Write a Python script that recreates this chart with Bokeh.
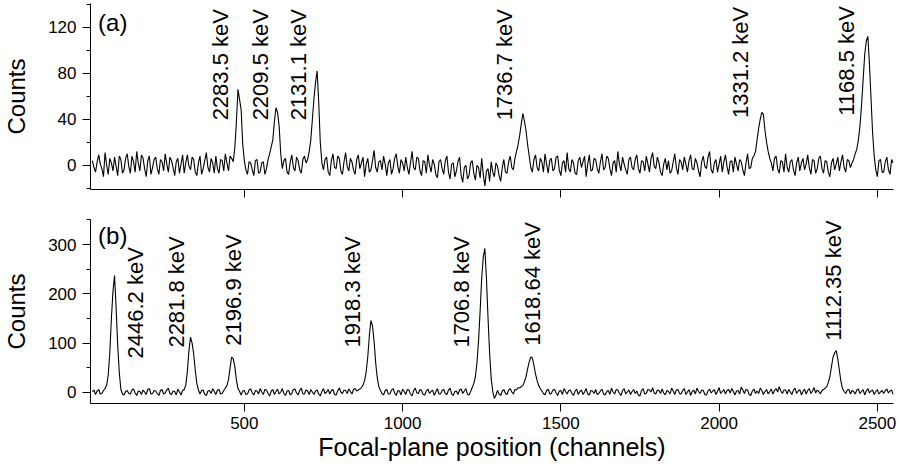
import math
from bokeh.plotting import figure
from bokeh.layouts import column
from bokeh.models import FixedTicker, ColumnDataSource, Range1d
from bokeh.core.properties import value
from bokeh.embed import file_html
from bokeh.resources import INLINE

# ---------------- data ----------------
channels = list(range(20, 2551, 5))

counts_a = [
    4, -2, -6, 3, 9, 1, -3, -10, 11, 0, -8, 6, 2, -5, 7, -1, -9, 8, 5, -7,
    -4, 6, 10, -1, -7, 8, 3, -6, 12, 2, -5, 9, 6, -3, -10, 4, 8, -8, -2, 5,
    7, -3, -8, 5, 3, -5, 10, 1, -6, 7, 4, -2, -9, 3, 6, -7, 1, 9, -7, 2,
    9, -1, -4, 7, 5, -6, -9, 2, 8, -8, -3, 4, 11, -2, -6, 6, 2, -7, 8, -3,
    -7, 5, 4, -5, 10, 2, -5, 8, 6, 3, 15, 38, 66, 57, 48, 18, 4, -4, -8, 3,
    2, -4, -9, 4, 5, -7, -6, 2, 3, -8, -3, 5, 10, 16, 22, 38, 50, 46, 34, 10,
    -3, 4, 6, -6, -8, 3, 9, -2, -5, 7, 4, -4, -7, 5, 8, 2, 5, 12, 22, 40,
    58, 72, 82, 55, 20, 2, -4, 5, 7, -6, -9, 4, 10, -2, -3, 8, 6, -5, -8, 3,
    11, -1, -5, 6, 3, -4, -8, 5, 9, -3, 2, 7, -10, 1, 6, -6, -4, 4, 13, -2,
    -6, 3, 4, -4, 8, 1, -9, 2, 5, -8, -3, 6, 10, -1, -7, 5, 2, -5, 7, -2,
    -8, 2, 12, -2, -4, 7, 6, -5, -9, 4, 3, -7, 9, 0, -6, 5, 1, -8, -11, 3,
    5, -3, -8, 4, 8, -6, -12, 1, 2, -10, -5, 3, 7, -9, -15, -2, 0, -12, -9, 2,
    4, -7, -13, 0, -2, -11, 6, -8, -18, -5, -3, -14, 3, -6, -10, 2, -1, -9, -14, -2,
    5, -6, -7, 3, 8, -2, -4, 6, 12, 18, 26, 36, 45, 38, 30, 18, 8, -2, -6, 5,
    9, -2, -5, 6, 3, -6, 10, 1, -7, 4, 6, -5, -3, 7, 8, -4, -9, 2, 4, -6,
    11, -3, -6, 5, 2, -7, -8, 4, 7, -2, 3, 8, -10, 1, 9, -5, -4, 6, 5, -3,
    -7, 3, 10, -4, -2, 8, 6, -3, -9, 2, 4, -6, 12, 1, -5, 7, 1, -4, -8, 5,
    7, -2, -4, 5, 9, -3, -7, 4, 3, -5, 8, 1, -6, 6, 11, -1, -3, 7, 2, -6,
    -9, 1, 6, -4, 4, -7, -5, 3, 10, -2, -8, 5, 3, -4, 7, 1, -6, 4, 9, -3,
    -4, 6, 2, -5, -10, 3, 8, -1, -3, 7, 12, -4, -7, 2, 5, -6, 1, 8, -6, 3,
    9, -1, -8, 3, 4, -6, 7, 1, -5, 5, 3, -4, -9, 2, 10, -3, -2, 6, 8, 12,
    22, 32, 40, 46, 44, 30, 20, 12, 6, 2, -5, 6, 8, -3, -7, 4, 3, -6, 10, -2,
    -6, 3, 5, -4, -9, 2, 7, -5, 2, 6, -4, 1, 9, -2, -8, 5, 4, -7, -3, 6,
    8, -3, -7, 4, 3, -6, -10, 2, 6, -4, 1, 7, -5, 3, 9, -2, -6, 5, 4, -2,
    2, 5, 10, 14, 22, 34, 52, 74, 96, 108, 112, 88, 58, 28, 8, -4, -10, 4, 5, -6,
    -6, 3, 7, -4, -8, 5, 2,
]

counts_b = [
    2, 5, -4, 3, 6, -3, -2, 4, 8, 15, 35, 80, 150, 205, 237, 170, 95, 40, 6, -3,
    -5, 2, 4, -2, -3, 5, 7, -1, -6, 3, 2, -4, 5, 1, -4, 6, 8, -3, -2, 4,
    3, -2, -6, 4, 6, -3, -1, 5, 9, -2, -4, 3, 2, -5, 7, 1, -5, 4, 6, 15,
    42, 85, 112, 100, 78, 45, 18, 5, -3, 4, 5, -4, -6, 3, 4, -2, 8, 2, -4, 5,
    6, -3, -2, 4, 9, 14, 26, 50, 72, 68, 52, 25, 8, 2, -5, 3, 4, -4, -3, 5,
    7, -1, -5, 4, 3, -3, 8, 1, -4, 6, 5, -2, -7, 3, 6, -4, 2, 7, -3, 1,
    8, -2, -6, 3, 4, -5, -2, 6, 7, -1, -5, 4, 9, -3, -3, 5, 3, -4, 6, 1,
    -4, 3, 5, -3, -7, 2, 8, -2, 1, 6, -3, 4, 6, -4, -5, 3, 9, 1, -2, 5,
    4, -2, 7, 2, -3, 6, 8, 3, 5, 7, 10, 15, 24, 42, 72, 115, 146, 135, 104, 60,
    30, 12, 4, -2, -5, 4, 6, -3, -3, 5, 8, -1, -6, 4, 3, -5, 7, 2, -4, 6,
    5, -3, -7, 4, 9, -1, -2, 6, 4, -4, -5, 3, 7, -2, 2, 5, -6, 1, 8, -3,
    -3, 4, 6, -2, -4, 5, 9, -3, -6, 2, 3, -4, 5, 7, -2, 3, 8, -4, -5, 2,
    10, 18, 32, 60, 105, 165, 232, 275, 292, 230, 150, 80, 28, 2, -12, -5, 4, -3, -6, 3,
    6, -2, -4, 5, 8, 1, -3, 6, 5, 10, 9, 12, 14, 22, 32, 48, 62, 72, 70, 55,
    38, 24, 14, 8, 3, -2, -5, 4, 7, -3, -2, 5, 6, -1, -6, 3, 4, -4, 8, 2,
    -3, 4, 5, -2, -6, 3, 7, -4, 2, 5, -4, 1, 8, -3, -5, 4, 3, -2, 6, -4,
    -2, 3, 7, -3, -5, 2, 4, -4, 9, 1, -3, 6, 5, -2, -6, 4, 8, -3, 1, 5,
    -4, 2, 6, -2, 3, -5, -7, 4, 8, -3, -2, 6, 5, 1, 10, -1, -3, 5, 4, -2,
    7, -1, -5, 4, 2, -3, 9, 3, -4, 5, 6, -2, -3, 4, 8, -4, 1, 6, -6, 2,
    5, -3, 9, 2, -2, 5, 4, -4, -5, 3, 7, -1, 3, 6, -4, 2, 10, -2, 2, 6,
    -3, 4, 6, -1, 8, 2, -5, 3, 4, -3, 11, 5, -2, 6, 5, -4, -6, 3, 7, -2,
    3, -2, 9, 4, -4, 2, 6, -3, 2, 7, -3, 4, 8, 1, 12, 3, -2, 5, 5, -3,
    6, 1, -4, 5, 9, -2, 3, 6, -5, 2, 7, -3, 4, 8, -2, 3, 10, -1, 5, 2,
    -3, 4, 6, 9, 12, 20, 32, 52, 72, 80, 85, 68, 45, 22, 8, 2, -2, 5, 6, -3,
    4, 2, -3, 5, 7, -2, 2, 6, -5, 3, 8, -1, 3, 5, -4, 2, 6, -3, 1, 4,
    -2, 4, 7, -1, 3, 5, -4,
]

labels_a = ["2283.5 keV", "2209.5 keV", "2131.1 keV", "1736.7 keV", "1331.2 keV", "1168.5 keV"]
label_a_x = [426, 550, 670, 1321, 2069, 2404]
label_a_y = [39, 39, 39, 39, 41, 43]

labels_b = ["2446.2 keV", "2281.8 keV", "2196.9 keV", "1918.3 keV", "1706.8 keV", "1618.64 keV", "1112.35 keV"]
label_b_x = [156, 286, 466, 842, 1186, 1411, 2363]
label_b_y = [69, 91, 95, 91, 91, 95, 105]

x_ticks = [500, 1000, 1500, 2000, 2500]
y_ticks_a = [0, 40, 80, 120]
y_minor_a = [-20, 20, 60, 100, 140]
y_ticks_b = [0, 100, 200, 300]
y_minor_b = [50, 150, 250, 350]

FONT = "Liberation Sans"


def make_panel(counts, yr, fh, mb_top, mb_bottom, yt, ym, labels, lx, ly, tag, tag_y, show_x):
    p = figure(frame_width=803, frame_height=fh,
               x_range=Range1d(14, 2551), y_range=Range1d(*yr),
               output_backend="svg", toolbar_location=None,
               min_border_left=89, min_border_right=7,
               min_border_top=mb_top, min_border_bottom=mb_bottom,
               x_axis_location="below", y_axis_location="left")
    p.outline_line_color = None
    p.grid.visible = False
    p.background_fill_color = "white"
    p.border_fill_color = "white"

    p.line(channels, counts, line_color="black", line_width=1.1)

    src = ColumnDataSource(dict(x=lx, y=ly, t=labels))
    p.text(x="x", y="y", text="t", source=src, angle=math.pi / 2,
           text_align="left", text_baseline="middle",
           text_font=value(FONT), text_font_size="22px", text_color="black")

    tsrc = ColumnDataSource(dict(x=[38], y=[tag_y], t=[tag]))
    p.text(x="x", y="y", text="t", source=tsrc, text_align="left",
           text_baseline="top", text_font=value(FONT),
           text_font_size="24px", text_color="black")

    xa = p.xaxis[0]
    xa.ticker = FixedTicker(ticks=x_ticks, minor_ticks=[])
    xa.axis_line_color = "black"
    xa.major_tick_line_color = "black"
    xa.major_tick_in = 0
    xa.major_tick_out = 8
    xa.minor_tick_line_color = None
    xa.major_label_text_font = FONT
    xa.major_label_text_font_size = "17px"
    if show_x:
        xa.major_label_text_color = "black"
        xa.major_label_standoff = 5
        xa.axis_label = "Focal-plane position (channels)"
        xa.axis_label_text_font = FONT
        xa.axis_label_text_font_size = "25px"
        xa.axis_label_text_font_style = "normal"
        xa.axis_label_text_color = "black"
        xa.axis_label_standoff = 1
    else:
        xa.major_label_text_color = None
        xa.major_label_standoff = 0

    ya = p.yaxis[0]
    ya.ticker = FixedTicker(ticks=yt, minor_ticks=ym)
    ya.axis_line_color = "black"
    ya.major_tick_line_color = "black"
    ya.minor_tick_line_color = "black"
    ya.major_tick_in = 0
    ya.major_tick_out = 8
    ya.minor_tick_in = 0
    ya.minor_tick_out = 4
    ya.major_label_text_font = FONT
    ya.major_label_text_font_size = "17px"
    ya.major_label_text_color = "black"
    ya.major_label_standoff = 6
    ya.axis_label = "Counts"
    ya.axis_label_text_font = FONT
    ya.axis_label_text_font_size = "24px"
    ya.axis_label_text_font_style = "normal"
    ya.axis_label_text_color = "black"
    ya.axis_label_standoff = 15
    return p


p1 = make_panel(counts_a, (-21.1, 140.6), 186, 3, 30, y_ticks_a, y_minor_a,
                labels_a, label_a_x, label_a_y, "(a)", 136, False)
p2 = make_panel(counts_b, (-22.3, 350.7), 184, 0, 66, y_ticks_b, y_minor_b,
                labels_b, label_b_x, label_b_y, "(b)", 346.6, True)

layout = column(p1, p2, spacing=0)
open("out.html", "w").write(file_html(layout, INLINE))
